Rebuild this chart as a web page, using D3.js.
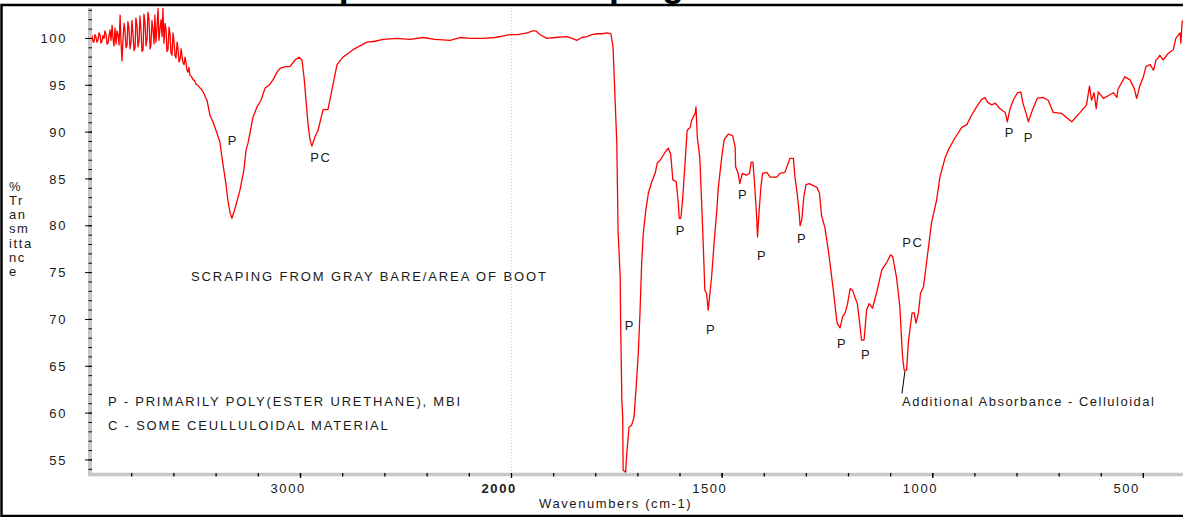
<!DOCTYPE html>
<html>
<head>
<meta charset="utf-8">
<style>
  body { margin: 0; background: #fff; }
  svg { display: block; }
  text { font-family: "Liberation Sans", Arial, sans-serif; font-size: 13px; fill: #1a1a1a; letter-spacing: 1.6px; }
  .title { font-weight: bold; font-size: 35.5px; letter-spacing: 0; fill: #000; }
  .bold { font-weight: bold; }
</style>
</head>
<body>
<svg width="1183" height="517"></svg>
<script src="https://d3js.org/d3.v7.min.js"></script>
<script>
// spectrum: [wavenumber cm-1, %T]
var spectrumHigh = [
  [3998,99.8],[3993,100.2],[3988,100.3],[3984,99.7],[3979,99.6],[3974,100.4],[3969,100.1],[3965,99.6],[3960,99.8],[3955,100.6],
  [3950,100.4],[3946,99.5],[3941,99.7],[3936,100.3],[3931,100.0],[3927,100.8],[3922,100.5],[3917,99.4],[3912,99.5],[3908,100.2],
  [3903,100.9],[3898,99.8],[3893,101.4],[3889,100.1],[3884,99.2],[3879,101.1],[3874,99.4],[3870,100.8],[3865,100.4],[3860,99.3],
  [3855,102.5],[3851,99.8],[3846,97.6],[3841,100.0],[3836,101.6],[3832,100.9],[3827,99.0],[3822,99.3],[3818,101.8],[3813,101.1],
  [3808,98.9],[3803,99.6],[3799,101.9],[3794,100.6],[3789,98.7],[3784,99.0],[3780,102.2],[3775,101.4],[3770,99.1],[3765,99.8],
  [3761,102.4],[3756,100.9],[3751,98.6],[3746,98.8],[3742,102.6],[3737,101.7],[3732,99.2],[3727,100.0],[3723,102.8],[3718,102.0],
  [3713,98.9],[3709,99.3],[3704,101.9],[3699,100.9],[3694,99.4],[3690,102.5],[3685,99.6],[3680,101.2],[3675,103.2],[3671,99.8],
  [3666,101.0],[3661,102.0],[3656,100.2],[3652,103.2],[3647,99.5],[3642,101.6],[3637,100.9],[3633,98.6],[3628,98.8],[3623,101.2],
  [3618,100.4],[3614,98.5],[3609,98.2],[3604,100.6],[3600,99.8],[3595,98.2],[3590,97.9],[3585,99.6],[3581,99.0],[3576,97.5],
  [3571,97.7],[3566,98.9],[3562,98.2],[3557,97.4],[3552,97.2],[3547,98.0],[3543,97.5],[3538,96.6],[3533,96.4],[3529,96.9],
  [3524,96.1],[3516,95.9],[3509,95.6],[3502,95.5],[3495,95.1],[3486,95.0],[3476,94.7],[3467,94.5],[3457,94.1],[3450,93.7],
  [3443,93.4],[3429,91.8],[3415,91.1],[3396,89.9],[3382,88.9],[3367,86.5],[3353,84.4],[3344,82.7],[3334,81.4],[3325,80.8],
  [3315,81.5],[3306,82.2],[3287,83.8],[3268,86.0],[3258,88.1],[3249,88.8],[3225,91.6],[3206,92.7],[3187,93.4],[3168,94.7],
  [3149,95.0],[3130,95.6],[3111,96.4],[3097,96.8],[3073,97.0],[3050,97.0],[3026,97.7],[3007,98.0],[2993,97.7],[2983,95.8],
  [2974,93.4],[2964,90.8],[2955,89.2],[2946,88.5],[2931,89.5],[2917,90.2],[2908,91.0],[2893,92.4],[2870,92.4],[2851,94.5],
  [2827,97.2],[2799,98.0],[2775,98.4],[2751,98.8],[2718,99.2],[2685,99.6],[2647,99.7],[2609,99.9],[2543,100.0],[2481,99.9],
  [2419,100.1],[2363,99.9],[2291,99.8],[2244,100.1],[2197,100.0],[2135,100.0],[2078,100.1],[2031,100.3],[2007,100.4]
];
var spectrumLow = [
  [1985,100.4],[1963,100.6],[1949,100.8],[1942,100.8],[1932,100.4],[1916,100.0],[1897,100.1],[1868,100.2],[1856,100.0],[1845,99.8],
  [1833,100.1],[1821,100.2],[1809,100.4],[1797,100.5],[1785,100.5],[1773,100.6],[1764,100.5],[1759,99.1],[1754,93.4],[1750,88.8],
  [1747,79.5],[1742,74.5],[1741,69.9],[1738,61.4],[1736,59.5],[1735,53.9],[1729,53.7],[1727,55.3],[1721,58.5],[1715,58.7],
  [1709,59.6],[1703,63.5],[1699,66.4],[1695,70.7],[1691,76.0],[1687,79.3],[1681,81.7],[1675,83.5],[1667,84.7],[1659,85.6],
  [1654,86.7],[1647,87.0],[1636,87.8],[1628,88.3],[1622,87.6],[1617,84.9],[1609,84.7],[1604,82.4],[1602,80.8],[1598,80.8],
  [1594,82.7],[1588,86.7],[1583,90.2],[1576,90.5],[1572,91.3],[1564,92.0],[1562,92.7],[1559,89.5],[1553,87.3],[1546,79.5],
  [1541,73.1],[1537,72.8],[1533,71.0],[1529,72.8],[1525,74.5],[1519,78.2],[1513,81.4],[1509,84.1],[1501,87.3],[1495,89.2],
  [1485,89.8],[1475,89.6],[1469,88.4],[1468,86.3],[1462,85.6],[1458,84.5],[1452,85.6],[1442,85.4],[1435,85.6],[1431,86.8],
  [1427,86.8],[1424,85.2],[1420,82.4],[1418,80.9],[1416,78.8],[1412,81.7],[1408,84.1],[1404,85.6],[1394,85.7],[1386,85.2],
  [1370,85.2],[1363,85.6],[1351,85.7],[1339,87.2],[1331,87.2],[1327,85.2],[1322,83.5],[1317,81.4],[1315,80.0],[1311,80.6],
  [1306,83.1],[1301,84.4],[1293,84.5],[1275,84.1],[1269,83.5],[1264,81.1],[1256,79.8],[1248,77.4],[1242,75.3],[1236,73.1],
  [1230,70.7],[1227,69.6],[1220,69.1],[1214,70.3],[1208,70.7],[1203,71.5],[1196,73.3],[1190,73.1],[1185,72.4],[1179,71.7],
  [1173,69.4],[1169,67.8],[1163,67.8],[1157,71.0],[1151,71.7],[1143,71.2],[1133,72.9],[1121,75.3],[1109,76.1],[1100,76.9],
  [1095,76.7],[1086,74.5],[1078,71.3],[1072,66.2],[1068,64.6],[1062,64.6],[1058,67.5],[1052,69.7],[1049,70.7],[1044,70.7],
  [1040,69.6],[1034,70.7],[1029,72.8],[1022,73.5],[1016,75.6],[1011,77.4],[1003,80.3],[991,82.7],[983,85.2],[971,87.2],
  [963,88.1],[947,89.4],[931,90.5],[919,90.8],[908,91.8],[896,92.7],[884,93.5],[876,93.7],[870,93.2],[860,92.9],
  [852,93.1],[840,92.5],[828,92.1],[823,91.1],[817,92.4],[809,93.4],[799,94.2],[791,94.3],[786,93.1],[779,92.1],
  [773,91.1],[763,92.4],[752,93.6],[739,93.7],[726,93.4],[714,92.1],[694,92.0],[670,91.1],[650,92.1],[635,92.9],
  [628,94.9],[623,93.4],[617,94.2],[612,92.5],[607,94.3],[595,93.6],[571,94.2],[563,93.7],[560,94.6],[544,95.9],
  [532,95.6],[522,94.7],[516,93.6],[508,95.0],[500,95.9],[494,97.0],[484,97.2],[476,96.6],[470,97.7],[465,97.9],
  [461,98.2],[453,97.7],[441,98.4],[429,98.8],[423,100.0],[413,100.6],[411,99.5],[408,101.8],[404,102.0]
];

var yTickLabels = [55, 60, 65, 70, 75, 80, 85, 90, 95, 100];
var xTickLabels = [3000, 2000, 1500, 1000, 500];

// peak markers: [text, wavenumber, %T]
var peakLabels = [
  ["P", 3320, 89.1], ["PC", 2903, 87.3], ["P", 1719, 69.4], ["P", 1598, 79.5],
  ["P", 1526, 69.0], ["P", 1450, 83.4], ["P", 1405, 76.9], ["P", 1310, 78.7],
  ["P", 1215, 67.5], ["P", 1158, 66.3], ["PC", 1047, 78.2], ["P", 817, 90.0], ["P", 772, 89.4]
];
var yLabelLines = ["%", "Tr", "an", "sm", "itta", "nc", "e"];
var legendLines = ["P - PRIMARILY POLY(ESTER URETHANE), MBI", "C - SOME CEULLULOIDAL MATERIAL"];

var svg = d3.select("svg");
var W = 1183, H = 517;

// OMNIC style axis: compressed above 2000 cm-1
var x = d3.scaleLinear().domain([4000, 2000, 400]).range([89.5, 511.5, 1185.5]);
var y = d3.scaleLinear().domain([53.5, 103.25]).range([474, 8]);

// title (mostly cut off at top)
svg.append("text").attr("class", "title").attr("x", 315).attr("y", -3).text("Spectrum of Scraping");

// frame
svg.append("rect")
  .attr("x", 1.5).attr("y", 5).attr("width", W + 20).attr("height", 511)
  .attr("fill", "none").attr("stroke", "#000").attr("stroke-width", 2.5);

// dotted line at the 2000 break
svg.append("line")
  .attr("x1", x(2000)).attr("x2", x(2000)).attr("y1", 8).attr("y2", 472)
  .attr("stroke", "#c8c8c8").attr("stroke-width", 1).attr("stroke-dasharray", "1,2");

// gray axis bars
svg.append("line").attr("x1", 90).attr("x2", 90).attr("y1", 8).attr("y2", 476)
  .attr("stroke", "#c8c8c8").attr("stroke-width", 4);
svg.append("line").attr("x1", 88).attr("x2", W).attr("y1", 474.5).attr("y2", 474.5)
  .attr("stroke", "#c8c8c8").attr("stroke-width", 3.5);

// y ticks
svg.selectAll(".ymin").data(d3.range(54, 104, 1)).enter().append("line")
  .attr("x1", 88.5).attr("x2", 92).attr("y1", d => y(d)).attr("y2", d => y(d))
  .attr("stroke", "#000").attr("stroke-width", 1);
svg.selectAll(".ymaj").data(yTickLabels).enter().append("line")
  .attr("x1", 85).attr("x2", 92).attr("y1", d => y(d)).attr("y2", d => y(d))
  .attr("stroke", "#000").attr("stroke-width", 1);
svg.selectAll(".ylab").data(yTickLabels).enter().append("text")
  .attr("x", 67).attr("y", d => y(d) + 4.7).attr("text-anchor", "end")
  .text(d => d);

// x ticks
var xMinor = d3.range(3800, 2000, -200).concat(d3.range(1900, 400, -100));
svg.selectAll(".xmin").data(xMinor).enter().append("line")
  .attr("x1", d => x(d)).attr("x2", d => x(d)).attr("y1", 473).attr("y2", 476.5)
  .attr("stroke", "#000").attr("stroke-width", 1.3);
svg.selectAll(".xmaj").data(xTickLabels).enter().append("line")
  .attr("x1", d => x(d)).attr("x2", d => x(d)).attr("y1", 473).attr("y2", 478)
  .attr("stroke", "#000").attr("stroke-width", 1.3);
svg.selectAll(".xlab").data(xTickLabels).enter().append("text")
  .attr("class", d => d === 2000 ? "bold" : null)
  .attr("x", d => x(d) - 30).attr("y", 492.5)
  .text(d => d);

svg.append("text").attr("x", 539).attr("y", 508).text("Wavenumbers (cm-1)");

// stacked y label
svg.selectAll(".ystack").data(yLabelLines).enter().append("text")
  .attr("x", 9).attr("y", (d, i) => 190.5 + i * 14.3)
  .text(d => d);

// spectrum
svg.append("clipPath").attr("id", "plotclip").append("rect")
  .attr("x", 92).attr("y", 6.5).attr("width", W - 92).attr("height", 467);

var line = d3.line().x(d => x(d[0])).y(d => y(d[1]));
svg.append("path")
  .datum(spectrumHigh.concat(spectrumLow))
  .attr("clip-path", "url(#plotclip)")
  .attr("d", line)
  .attr("fill", "none").attr("stroke", "#ff0000").attr("stroke-width", 1.3)
  .attr("stroke-linejoin", "round");

// peak labels
svg.selectAll(".peak").data(peakLabels).enter().append("text")
  .attr("x", d => x(d[1])).attr("y", d => y(d[2]) + 4.7)
  .attr("text-anchor", "middle")
  .text(d => d[0]);

// notes
svg.append("text").attr("x", 191).attr("y", 281).style("letter-spacing", "1.9px")
  .text("SCRAPING FROM GRAY BARE/AREA OF BOOT");
svg.selectAll(".legend").data(legendLines).enter().append("text")
  .attr("x", 108).attr("y", (d, i) => 406 + i * 24).style("letter-spacing", "1.8px")
  .text(d => d);

// callout
svg.append("line")
  .attr("x1", x(1066)).attr("y1", y(64.5)).attr("x2", x(1073)).attr("y2", y(62.1))
  .attr("stroke", "#000").attr("stroke-width", 1);
svg.append("text").attr("x", x(1073)).attr("y", 406).style("letter-spacing", "1.5px")
  .text("Additional Absorbance - Celluloidal");
</script>
</body>
</html>
